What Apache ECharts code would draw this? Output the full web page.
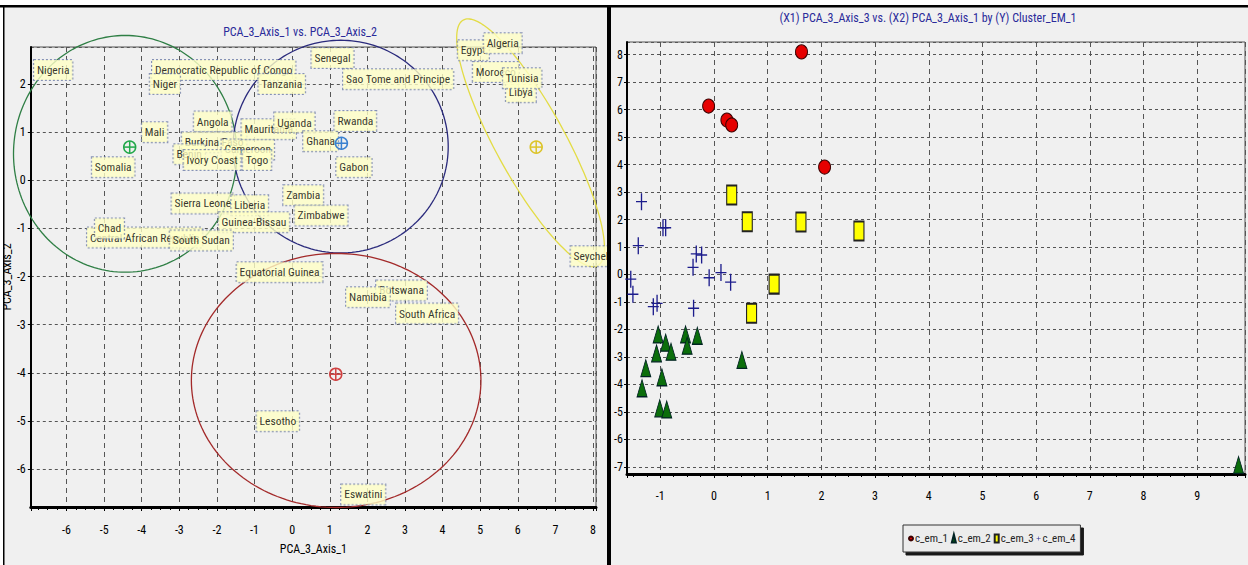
<!DOCTYPE html>
<html>
<head>
<meta charset="utf-8">
<script src="https://cdn.jsdelivr.net/npm/echarts@6/dist/echarts.min.js"></script>
<style>
  html, body { margin: 0; padding: 0; background: #fff; }
  #chart { width: 1248px; height: 565px; }
</style>
</head>
<body>
<div id="chart"></div>
<script>
  // left panel: country positions on the first two PCA axes
  const countries = ['Nigeria', 'Democratic Republic of Congo', 'Niger', 'Tanzania', 'Senegal', 'Sao Tome and Principe',
    'Angola', 'Mali', 'Somalia', 'Burkina Faso', 'Benin', 'Cameroon', 'Ivory Coast', 'Togo', 'Mauritania', 'Uganda',
    'Ghana', 'Rwanda', 'Gabon', 'Zambia', 'Zimbabwe', 'Sierra Leone', 'Liberia', 'Guinea-Bissau',
    'Central African Republic', 'Chad', 'South Sudan', 'Equatorial Guinea', 'Botswana', 'Namibia', 'South Africa',
    'Seychelles', 'Lesotho', 'Eswatini', 'Egypt', 'Algeria', 'Morocco', 'Libya', 'Tunisia']
  const axis1 = [-6.88, -3.74, -3.80, -0.91, 0.50, 1.34,
    -2.63, -4.01, -5.34, -2.95, -3.17, -1.89, -2.90, -1.33, -1.36, -0.49,
    0.28, 1.11, 1.16, -0.25, 0.05, -3.22, -1.63, -1.97,
    -5.47, -5.26, -3.27, -1.49, 2.22, 1.42, 2.75,
    7.39, -0.96, 1.29, 4.39, 5.08, 4.79, 5.67, 5.59]
  const axis2 = [2.29, 2.29, 2.00, 2.00, 2.54, 2.10,
    1.22, 1.00, 0.27, 0.79, 0.54, 0.64, 0.42, 0.42, 1.06, 1.20,
    0.81, 1.23, 0.27, -0.31, -0.73, -0.48, -0.52, -0.87,
    -1.19, -1.00, -1.25, -1.91, -2.29, -2.43, -2.77,
    -1.58, -5.01, -6.53, 2.70, 2.85, 2.25, 1.83, 2.12]

  // cluster ellipses (centre + two half-axis vectors) and cluster centres
  const ellCX = [-4.44, 1.29, 1.17, 6.34]
  const ellCY = [0.55, 0.70, -4.16, 0.78]
  const ellUX = [2.97, 2.86, 3.85, 1.79]
  const ellUY = [0, 0, 0, -2.55]
  const ellVX = [0, 0, 0, 0.81]
  const ellVY = [2.46, 2.21, 2.64, 0.35]
  const centerX = [-4.32, 1.31, 1.16, 6.49]
  const centerY = [0.69, 0.77, -4.03, 0.69]

  // right panel: PCA_3_Axis_3 (x) vs PCA_3_Axis_1 (y) by cluster
  const clusters = ['c_em_1', 'c_em_2', 'c_em_3', 'c_em_4']
  const c1X = [1.63, -0.10, 0.24, 0.33, 2.06]
  const c1Y = [8.10, 6.13, 5.62, 5.44, 3.91]
  const c2X = [-1.04, -0.90, -0.53, -0.31, -0.50, -1.07, -0.80, 0.52, -1.27, -0.97, -1.34, -1.01, -0.88, 9.77]
  const c2Y = [-2.18, -2.48, -2.18, -2.23, -2.59, -2.87, -2.81, -3.11, -3.41, -3.74, -4.14, -4.87, -4.91, -6.93]
  const c3X = [0.33, 0.62, 1.62, 2.70, 1.12, 0.70]
  const c3Y = [2.89, 1.92, 1.91, 1.58, -0.35, -1.41]
  const c4X = [-1.35, -0.95, -0.90, -1.41, -0.33, -0.23, -0.39, -0.09, 0.13, 0.31, -1.55, -1.51, -1.13, -1.06, -0.38]
  const c4Y = [2.65, 1.70, 1.70, 1.05, 0.75, 0.71, 0.26, -0.12, 0.07, -0.28, -0.17, -0.72, -1.17, -1.05, -1.23]

  const FONT = "'Roboto Condensed', 'Liberation Sans', sans-serif"
  const ellColors = ['#2f7f45', '#2a2a7c', '#a32a2a', '#e3dc45']
  const centerColors = ['#22a84a', '#3a80d0', '#d04040', '#dcc42a']
  const PLUS = 'path://M4.4,0h1.2v10h-1.2zM0,4.6h10v0.8h-10z'

  const pts = (xs, ys) => xs.map((x, i) => [x, ys[i]])

  const tickLabel = { color: '#000', fontSize: 12, fontFamily: FONT, showMinLabel: false, showMaxLabel: false }
  const hDash = { show: true, lineStyle: { color: '#555', type: [3, 3], width: 1 } }
  const vDash = { show: true, lineStyle: { color: '#555', type: [5, 4], width: 1 } }

  let myChart = echarts.init(document.getElementById('chart'), null, { renderer: 'svg' })
  let option = {
    backgroundColor: '#f0f0f0',
    animation: false,
    grid: [
      { left: 29, top: 47, width: 567, height: 460, show: true, borderColor: '#555', borderWidth: 1, backgroundColor: '#f0f0f0', z: 0 },
      { left: 627, top: 42, width: 618, height: 432, show: true, borderColor: '#555', borderWidth: 1, backgroundColor: '#f0f0f0', z: 12 }
    ],
    xAxis: [
      {
        gridIndex: 0, type: 'value', min: -6.95, max: 8.08, minInterval: 1, maxInterval: 1,
        name: 'PCA_3_Axis_1', nameLocation: 'middle', nameGap: 36,
        nameTextStyle: { color: '#000', fontSize: 12, fontFamily: FONT },
        axisLine: { onZero: false, lineStyle: { color: '#000', width: 3 } },
        axisTick: { show: true, length: 4, lineStyle: { color: '#000' } },
        minorTick: { show: true, splitNumber: 4, length: 3, lineStyle: { color: '#000' } },
        axisLabel: Object.assign({ margin: 17 }, tickLabel),
        splitLine: vDash
      },
      {
        gridIndex: 1, type: 'value', min: -1.62, max: 9.89, minInterval: 1, maxInterval: 1, z: 12,
        axisLine: { onZero: false, lineStyle: { color: '#000', width: 3 } },
        axisTick: { show: true, length: 4, lineStyle: { color: '#000' } },
        minorTick: { show: true, splitNumber: 4, length: 3, lineStyle: { color: '#000' } },
        axisLabel: Object.assign({ margin: 16 }, tickLabel),
        splitLine: vDash
      }
    ],
    yAxis: [
      {
        gridIndex: 0, type: 'value', min: -6.79, max: 2.77, minInterval: 1, maxInterval: 1,
        name: 'PCA_3_Axis_2', nameLocation: 'middle', nameGap: 15, nameRotate: 90,
        nameTextStyle: { color: '#000', fontSize: 12, fontFamily: FONT },
        axisLine: { onZero: false, lineStyle: { color: '#000', width: 2 } },
        axisTick: { show: true, length: 3, lineStyle: { color: '#000' } },
        axisLabel: Object.assign({ margin: 5 }, tickLabel),
        splitLine: hDash
      },
      {
        gridIndex: 1, type: 'value', min: -7.26, max: 8.46, minInterval: 1, maxInterval: 1, z: 12,
        axisLine: { onZero: false, lineStyle: { color: '#000', width: 2 } },
        axisTick: { show: true, length: 3, lineStyle: { color: '#000' } },
        axisLabel: Object.assign({ margin: 4 }, tickLabel),
        splitLine: hDash
      }
    ],
    legend: {
      data: clusters, left: 903, top: 525, z: 14,
      itemWidth: 4, itemHeight: 8, itemGap: 3, padding: [8, 5],
      textStyle: { color: '#222', fontSize: 11, fontFamily: FONT, padding: [0, 0, 0, -3] },
      backgroundColor: '#ececec', borderColor: '#333', borderWidth: 1,
      shadowColor: 'rgba(0,0,0,0.9)', shadowBlur: 0, shadowOffsetX: 3, shadowOffsetY: 3,
      selectedMode: false
    },
    graphic: [
      { type: 'rect', z: 10, silent: true, shape: { x: 611, y: 7, width: 637, height: 558 }, style: { fill: '#f0f0f0' } },
      { type: 'rect', z: 20, silent: true, shape: { x: 0, y: 0, width: 1248, height: 5 }, style: { fill: '#fff' } },
      { type: 'rect', z: 20, silent: true, shape: { x: 0, y: 0, width: 3, height: 565 }, style: { fill: '#fff' } },
      { type: 'rect', z: 20, silent: true, shape: { x: 0, y: 5, width: 1248, height: 2.5 }, style: { fill: '#000' } },
      { type: 'rect', z: 20, silent: true, shape: { x: 3, y: 5, width: 1.5, height: 560 }, style: { fill: '#000' } },
      { type: 'rect', z: 20, silent: true, shape: { x: 607, y: 5, width: 4, height: 560 }, style: { fill: '#000' } },
      { type: 'text', z: 14, silent: true, x: 300, y: 32,
        style: { text: 'PCA_3_Axis_1 vs. PCA_3_Axis_2', fill: '#2b2b9a', font: '12px ' + FONT, align: 'center', verticalAlign: 'middle' } },
      { type: 'text', z: 14, silent: true, x: 928, y: 18,
        style: { text: '(X1) PCA_3_Axis_3 vs. (X2) PCA_3_Axis_1 by (Y) Cluster_EM_1', fill: '#2b2b9a', font: '12px ' + FONT, align: 'center', verticalAlign: 'middle' } }
    ],
    series: [
      {
        type: 'custom', xAxisIndex: 0, yAxisIndex: 0, z: 2, silent: true,
        data: ellCX.map((cx, i) => [cx, ellCY[i], ellUX[i], ellUY[i], ellVX[i], ellVY[i]]),
        encode: { x: 0, y: 1 },
        renderItem(params, api) {
          const cx = api.value(0), cy = api.value(1)
          const ux = api.value(2), uy = api.value(3), vx = api.value(4), vy = api.value(5)
          const points = []
          for (let k = 0; k <= 180; k++) {
            const t = k / 180 * Math.PI * 2
            points.push(api.coord([cx + ux * Math.cos(t) + vx * Math.sin(t), cy + uy * Math.cos(t) + vy * Math.sin(t)]))
          }
          return { type: 'polyline', shape: { points }, style: { stroke: ellColors[params.dataIndex], fill: null, lineWidth: 1.3 } }
        }
      },
      {
        type: 'scatter', xAxisIndex: 0, yAxisIndex: 0, z: 3, clip: false, silent: true,
        symbolSize: 1, itemStyle: { color: 'rgba(0,0,0,0)' },
        data: countries.map((n, i) => ({ name: n, value: [axis1[i], axis2[i]] })),
        label: {
          show: true, position: 'right', distance: 0, formatter: '{b}',
          color: '#000', fontSize: 11.5, fontFamily: FONT,
          backgroundColor: '#ffffc6', borderColor: '#6c7aa6', borderWidth: 1, borderType: 'dotted',
          padding: [5, 3, 3, 3]
        }
      },
      {
        type: 'custom', xAxisIndex: 0, yAxisIndex: 0, z: 4, silent: true,
        data: pts(centerX, centerY),
        renderItem(params, api) {
          const p = api.coord([api.value(0), api.value(1)])
          const c = centerColors[params.dataIndex]
          const r = 6
          return {
            type: 'group', children: [
              { type: 'circle', shape: { cx: p[0], cy: p[1], r }, style: { stroke: c, fill: null, lineWidth: 1.5 } },
              { type: 'line', shape: { x1: p[0] - r, y1: p[1], x2: p[0] + r, y2: p[1] }, style: { stroke: c, lineWidth: 1.5 } },
              { type: 'line', shape: { x1: p[0], y1: p[1] - r, x2: p[0], y2: p[1] + r }, style: { stroke: c, lineWidth: 1.5 } }
            ]
          }
        }
      },
      {
        name: 'c_em_1', type: 'scatter', xAxisIndex: 1, yAxisIndex: 1, z: 13, clip: false,
        symbol: 'circle', symbolSize: [12, 14],
        itemStyle: { color: '#e60000', borderColor: '#3a0000', borderWidth: 1, opacity: 1 },
        data: pts(c1X, c1Y)
      },
      {
        name: 'c_em_2', type: 'scatter', xAxisIndex: 1, yAxisIndex: 1, z: 13, clip: false,
        symbol: 'triangle', symbolSize: [10, 17],
        itemStyle: { color: '#0b6e0b', borderColor: '#022', borderWidth: 1, opacity: 1 },
        data: pts(c2X, c2Y)
      },
      {
        name: 'c_em_3', type: 'scatter', xAxisIndex: 1, yAxisIndex: 1, z: 13, clip: false,
        symbol: 'rect', symbolSize: [10, 19],
        itemStyle: { color: '#ffff00', borderColor: '#222', borderWidth: 1.5, opacity: 1 },
        data: pts(c3X, c3Y)
      },
      {
        name: 'c_em_4', type: 'scatter', xAxisIndex: 1, yAxisIndex: 1, z: 13, clip: false,
        symbol: PLUS, symbolSize: [11, 17],
        itemStyle: { color: '#1c1c8c', opacity: 1 },
        data: pts(c4X, c4Y)
      }
    ]
  }

  myChart.setOption(option)
  window.addEventListener('resize', myChart.resize)
</script>
</body>
</html>
